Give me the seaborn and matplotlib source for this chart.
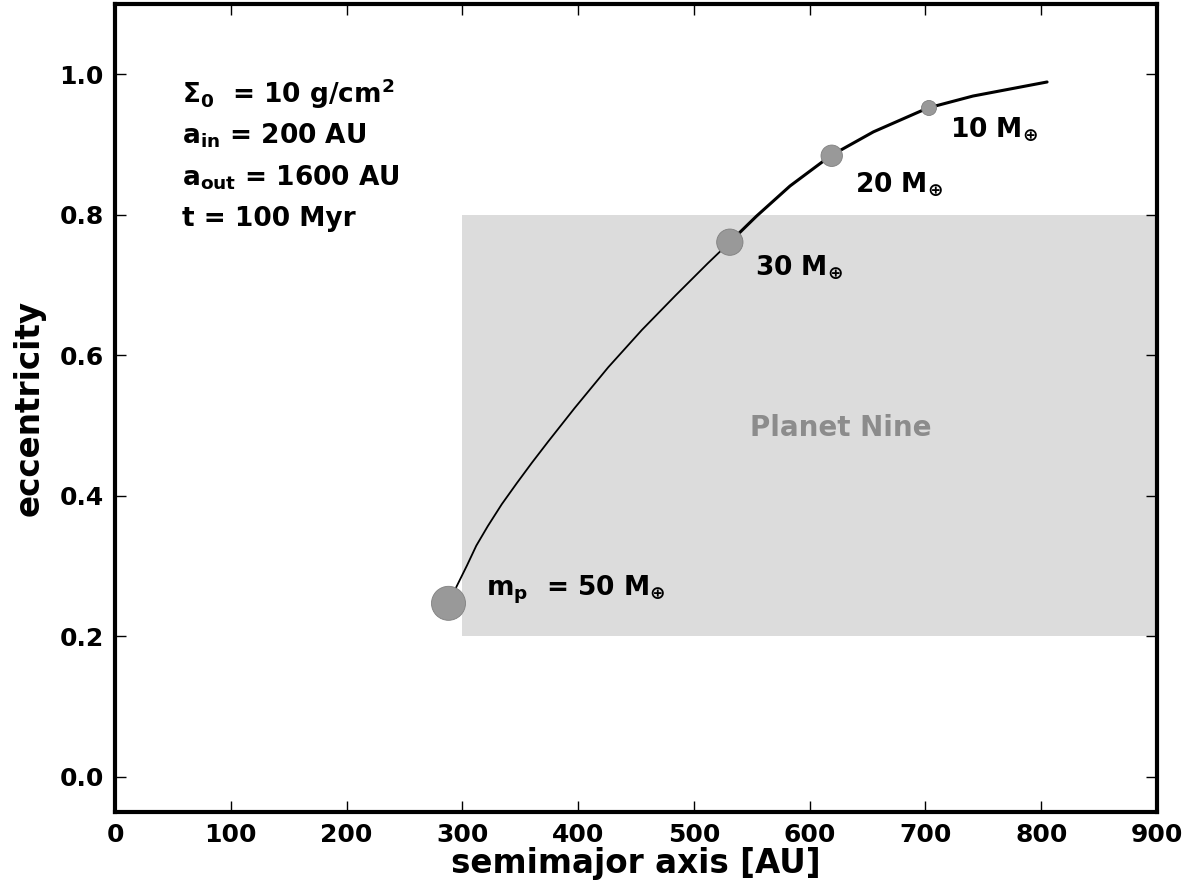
import matplotlib
matplotlib.use("Agg")
import matplotlib.pyplot as plt
import seaborn as sns
import pandas as pd

# curve: eccentricity vs semimajor axis
a_curve = [288, 295, 304, 312, 322, 334, 347, 360, 374, 397, 426, 455, 484, 512, 531,
           554, 583, 618, 655, 702, 741, 805]
e_curve = [0.245, 0.271, 0.301, 0.329, 0.357, 0.388, 0.418, 0.447, 0.477, 0.525, 0.583,
           0.636, 0.685, 0.731, 0.761, 0.798, 0.841, 0.884, 0.918, 0.952, 0.969, 0.989]

# planet masses (Earth masses) and their positions
masses = [50, 30, 20, 10]
a_pts = [288, 531, 619, 703]
e_pts = [0.247, 0.761, 0.884, 0.952]
mass_labels = [r"$m_p$  = 50 $M_{\oplus}$", r"30 $M_{\oplus}$", r"20 $M_{\oplus}$", r"10 $M_{\oplus}$"]

# Planet Nine region
p9_a = [300, 900]
p9_e = [0.2, 0.8]

xticks = [0, 100, 200, 300, 400, 500, 600, 700, 800, 900]
yticks = [0.0, 0.2, 0.4, 0.6, 0.8, 1.0]

sns.set_style("ticks")
plt.rcParams["font.family"] = ["DejaVu Sans"]
plt.rcParams["font.weight"] = "bold"
plt.rcParams["mathtext.fontset"] = "dejavusans"
plt.rcParams["mathtext.default"] = "bf"
for k in ["text.color", "axes.labelcolor", "xtick.color", "ytick.color", "axes.edgecolor"]:
    plt.rcParams[k] = "black"

fig = plt.figure(figsize=(11.91, 8.88), dpi=100)
ax = fig.add_axes([0.0966, 0.0856, 0.8749, 0.9099])

ax.fill_between(p9_a, p9_e[0], p9_e[1], color="#dcdcdc", lw=0, zorder=0)

curve = pd.DataFrame({"a": a_curve, "e": e_curve})
split = a_pts[1]
lower = curve[curve["a"] <= split]
upper = curve[curve["a"] >= split]
sns.lineplot(data=lower, x="a", y="e", sort=False, estimator=None, color="black", lw=1.3, ax=ax, zorder=2)
sns.lineplot(data=upper, x="a", y="e", sort=False, estimator=None, color="black", lw=2.2, ax=ax, zorder=2)

pts = pd.DataFrame({"a": a_pts, "e": e_pts, "m": masses})
sns.scatterplot(data=pts, x="a", y="e", size="m", sizes=(117, 600), color="#999999",
                edgecolor="#808080", linewidth=0.6, legend=False, ax=ax, zorder=3)

label_pos = [(320, 0.266), (553, 0.726), (639, 0.844), (721, 0.922)]
for (x, y), lab in zip(label_pos, mass_labels):
    ax.text(x, y, lab, fontsize=19, fontweight="bold", va="center", ha="left")

ax.text(548, 0.496, "Planet Nine", fontsize=20, fontweight="bold", color="#8c8c8c", va="center", ha="left")

params = [r"$\Sigma_0$  = 10 g/cm$^2$", r"$a_{in}$ = 200 AU", r"$a_{out}$ = 1600 AU", "t = 100 Myr"]
for i, s in enumerate(params):
    ax.text(58, 0.972 - i * 0.0595, s, fontsize=19, fontweight="bold", va="center", ha="left")

ax.set_xlim(0, 900)
ax.set_ylim(-0.05, 1.1)
ax.set_xticks(xticks)
ax.set_yticks(yticks)
ax.set_xticklabels([str(t) for t in xticks], fontsize=18, fontweight="bold")
ax.set_yticklabels([f"{t:.1f}" for t in yticks], fontsize=18, fontweight="bold")
ax.tick_params(direction="in", length=8, width=1, top=True, right=True, pad=8)
for sp in ax.spines.values():
    sp.set_linewidth(3)
    sp.set_color("black")
ax.set_xlabel("semimajor axis [AU]", fontsize=23.5, fontweight="bold", labelpad=0)
ax.set_ylabel("eccentricity", fontsize=23.5, fontweight="bold", labelpad=10)

fig.savefig("out.png", dpi=100)
